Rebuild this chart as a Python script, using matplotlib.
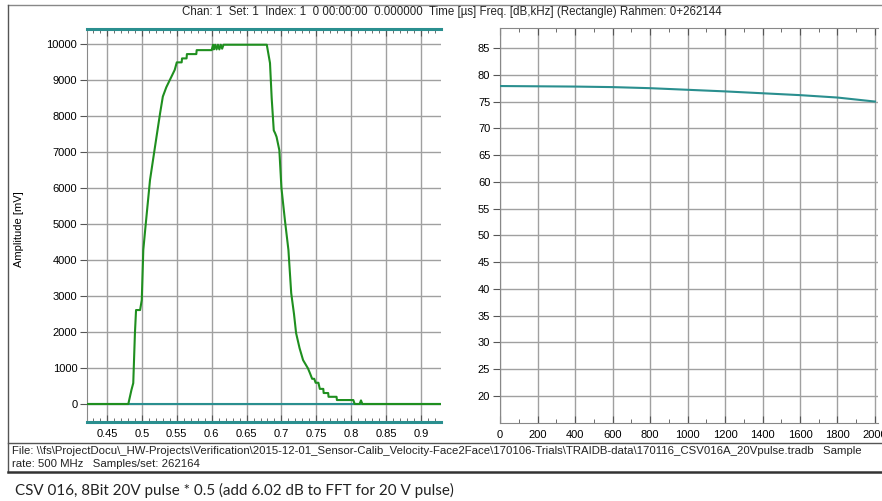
import matplotlib
matplotlib.use("Agg")
import matplotlib.pyplot as plt
from matplotlib.lines import Line2D
from matplotlib.ticker import MultipleLocator

plt.rcParams['font.family'] = ['Liberation Sans', 'DejaVu Sans']

# time signal (left): time [us] vs amplitude [mV]
pulse_t = [0.421, 0.4805, 0.485, 0.4876, 0.490, 0.4916, 0.4974, 0.4998, 0.502,
           0.505, 0.508, 0.5116, 0.5188, 0.526, 0.530, 0.535, 0.540, 0.547, 0.550,
           0.557, 0.5575, 0.564, 0.5645, 0.578, 0.5785, 0.600, 0.602, 0.603,
           0.605, 0.607, 0.609, 0.611, 0.613, 0.615, 0.617, 0.679, 0.6836,
           0.686, 0.689, 0.691, 0.693, 0.697, 0.700, 0.705, 0.710, 0.714,
           0.718, 0.721, 0.726, 0.731, 0.738, 0.741, 0.744, 0.747, 0.749,
           0.753, 0.755, 0.760, 0.7605, 0.767, 0.7675, 0.779, 0.7795, 0.803,
           0.805, 0.812, 0.814, 0.816, 0.928]
pulse_mv = [0, 0, 390, 580, 1970, 2610, 2610, 2890, 4280,
            4900, 5500, 6220, 7150, 8070, 8540, 8800, 9000, 9280, 9490,
            9490, 9600, 9600, 9720, 9720, 9830, 9830, 9980, 9850,
            9980, 9850, 9980, 9850, 9980, 9870, 9980, 9980, 9470,
            8500, 7600, 7520, 7420, 7050, 6000, 5100, 4280, 3080,
            2500, 1970, 1550, 1220, 990, 850, 700, 700, 590,
            590, 420, 420, 305, 305, 200, 200, 110, 110,
            0, 0, 100, 0, 0]

# spectrum (right): frequency [kHz] vs level [dB]
freq_khz = [0, 200, 400, 600, 800, 1000, 1200, 1400, 1600, 1800, 2000]
level_db = [77.9, 77.85, 77.8, 77.7, 77.5, 77.2, 76.9, 76.55, 76.2, 75.75, 75.0]

W, H = 882, 501
green = '#1f8f1f'
teal = '#2a8f8f'
grid = '#a0a0a0'
dark = '#555555'
tick_fs = 8


def rect(x0, y0, x1, y1):
    return [x0 / W, 1 - y1 / H, (x1 - x0) / W, (y1 - y0) / H]


fig = plt.figure(figsize=(W / 100, H / 100), dpi=100)

# outer frame and file box
fig.add_artist(Line2D([8 / W, 1], [1 - 5 / H] * 2, color='#888888', lw=1))
fig.add_artist(Line2D([8 / W] * 2, [1 - 5 / H, 1 - 472 / H], color='#555555', lw=1))
fig.add_artist(Line2D([8 / W, 1], [1 - 443 / H] * 2, color='#555555', lw=1))
fig.add_artist(Line2D([8 / W, 1], [1 - 472 / H] * 2, color='#333333', lw=1.8))

fig.text(452 / W, 1 - 12 / H,
         "Chan: 1  Set: 1  Index: 1  0 00:00:00  0.000000  Time [\u00b5s] Freq. [dB,kHz] (Rectangle) Rahmen: 0+262144",
         ha='center', va='center', fontsize=8.3, color='#222222')
fig.text(12 / W, 1 - 451 / H,
         "File: \\\\fs\\ProjectDocu\\_HW-Projects\\Verification\\2015-12-01_Sensor-Calib_Velocity-Face2Face"
         "\\170106-Trials\\TRAIDB-data\\170116_CSV016A_20Vpulse.tradb   Sample",
         ha='left', va='center', fontsize=8.2, color='#222222')
fig.text(12 / W, 1 - 464 / H, "rate: 500 MHz   Samples/set: 262164",
         ha='left', va='center', fontsize=8.2, color='#222222')
fig.text(15 / W, 1 - 490 / H,
         "CSV 016, 8Bit 20V pulse * 0.5 (add 6.02 dB to FFT for 20 V pulse)",
         ha='left', va='center', fontsize=10.9, color='#222222', family=['Lato', 'DejaVu Sans'])

# ---- left: time signal ----
ax1 = fig.add_axes(rect(87, 29, 441, 422))
ax1.set_xlim(0.4213, 0.9287)
ax1.set_ylim(-500, 10417)
ax1.xaxis.set_minor_locator(MultipleLocator(0.01))
ax1.yaxis.set_major_locator(MultipleLocator(1000))
ax1.set_xticks([0.45, 0.5, 0.55, 0.6, 0.65, 0.7, 0.75, 0.8, 0.85, 0.9])
ax1.set_xticklabels(['0.45', '0.5', '0.55', '0.6', '0.65', '0.7', '0.75', '0.8', '0.85', '0.9'])
ax1.grid(True, which='major', color=grid, lw=1)
ax1.axhline(0, color=teal, lw=1.5, zorder=2)
ax1.plot(pulse_t, pulse_mv, color=green, lw=1.5, zorder=3)
for s in ('top', 'bottom'):
    ax1.spines[s].set_color(teal)
    ax1.spines[s].set_linewidth(2.2)
ax1.spines['left'].set_color('#888888')
ax1.spines['right'].set_visible(False)
ax1.tick_params(axis='x', which='both', top=True, bottom=True, direction='in',
                color=dark, labelsize=tick_fs, pad=5, labeltop=False)
ax1.tick_params(axis='x', which='major', length=5)
ax1.tick_params(axis='x', which='minor', length=3)
for t in ax1.xaxis.get_major_ticks() + ax1.xaxis.get_minor_ticks():
    t.tick2line.set_marker(3)  # upward marks on top edge
ax1.tick_params(axis='y', direction='out', length=5, color=dark, labelsize=tick_fs, pad=2)
ax1.set_ylabel("Amplitude [mV]", fontsize=8)
ax1.yaxis.set_label_coords(-0.177, 0.49)

# ---- right: spectrum ----
ax2 = fig.add_axes(rect(500, 28, 878, 423))
ax2.set_xlim(0, 2016)
ax2.set_ylim(14.96, 88.74)
ax2.xaxis.set_major_locator(MultipleLocator(200))
ax2.xaxis.set_minor_locator(MultipleLocator(100))
ax2.set_yticks(list(range(20, 90, 5)))
ax2.grid(True, which='major', color=grid, lw=1)
ax2.plot(freq_khz, level_db, color=teal, lw=1.5, zorder=3)
for s in ('top', 'bottom', 'left'):
    ax2.spines[s].set_color('#888888')
ax2.spines['right'].set_visible(False)
ax2.tick_params(axis='x', which='both', top=True, bottom=True, direction='in',
                color=dark, labelsize=tick_fs, pad=5)
ax2.tick_params(axis='x', which='major', length=5)
ax2.tick_params(axis='x', which='minor', length=3)
for t in ax2.xaxis.get_major_ticks() + ax2.xaxis.get_minor_ticks():
    t.tick2line.set_marker(3)
ax2.tick_params(axis='y', direction='out', length=5, color=dark, labelsize=tick_fs, pad=2)

fig.savefig("out.png", dpi=100)
